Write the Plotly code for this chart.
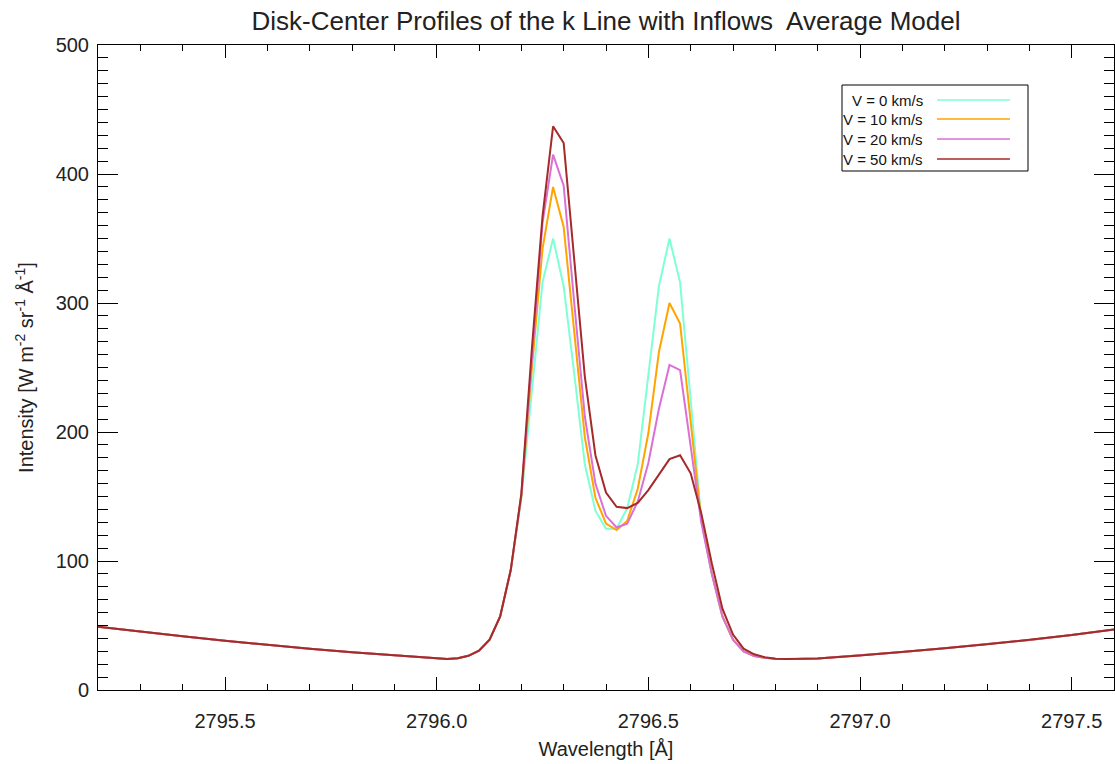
import plotly.graph_objects as go

# ---- data ----
wl_blue_wing = [2795.2, 2795.3, 2795.4, 2795.5, 2795.6, 2795.7, 2795.8, 2795.9, 2795.95,
                2796.0, 2796.025, 2796.05, 2796.075, 2796.1, 2796.125, 2796.15, 2796.175]
int_blue_wing = [49.0, 45.2, 41.6, 38.2, 35.0, 32.0, 29.3, 26.8, 25.5,
                 24.3, 24.1, 24.6, 26.5, 30.5, 39.0, 57.0, 93.0]

wl_core = [2796.2, 2796.225, 2796.25, 2796.275, 2796.3, 2796.325, 2796.35, 2796.375,
           2796.4, 2796.425, 2796.45, 2796.475, 2796.5, 2796.525, 2796.55, 2796.575,
           2796.6, 2796.625, 2796.65, 2796.675, 2796.7, 2796.725, 2796.75, 2796.775]
core_v0 = [148, 232, 316, 350, 313, 245, 175, 139, 125, 125, 141, 175, 244, 313, 350, 316,
           225, 132, 90, 57, 39, 30, 26.4, 25]
core_v10 = [150, 250, 342, 390, 359, 275, 196, 149, 129, 124, 131, 156, 199, 262, 300, 284,
            210, 132, 90, 57, 39, 30, 26.4, 25]
core_v20 = [151, 260, 362, 415, 391, 300, 212, 160, 135, 126, 129, 146, 176, 218, 252, 248,
            190, 130, 90, 57, 39, 30, 26.4, 25]
core_v50 = [152, 265, 367, 437, 424, 334, 243, 182, 153, 142, 141, 145, 155, 167, 179, 182,
            168, 137, 98, 63, 43, 32, 27.7, 25.4]

wl_red_wing = [2796.8, 2796.825, 2796.85, 2796.9, 2797.0, 2797.1, 2797.2, 2797.3,
               2797.4, 2797.5, 2797.6]
int_red_wing = [24.3, 24.0, 24.0, 24.5, 26.8, 29.4, 32.3, 35.4, 38.8, 42.6, 47.0]

series_names = ["V = 0 km/s", "V = 10 km/s", "V = 20 km/s", "V = 50 km/s"]
series_cores = [core_v0, core_v10, core_v20, core_v50]
series_colors = ["#7FFFD4", "#FFA500", "#DA70D6", "#A52A2A"]

x_ticks = [2795.5, 2796.0, 2796.5, 2797.0, 2797.5]
y_ticks = [0, 100, 200, 300, 400, 500]

FONT = "Liberation Sans, Arial, Helvetica, sans-serif"

fig = go.Figure()
wl_all = wl_blue_wing + wl_core + wl_red_wing
for name, core, color in zip(series_names, series_cores, series_colors):
    fig.add_trace(go.Scatter(
        x=wl_all, y=int_blue_wing + core + int_red_wing,
        mode="lines", name=name, line=dict(color=color, width=2),
        showlegend=False))

# Figure fills the whole window (body margin removed in post_script below)
W, H = 1115, 764
L, T = 98, 45
R = W - 1114
B = H - 690
pw, ph = W - L - R, H - T - B

def px(xp):
    return (xp - L) / pw

def py(yp):
    return (H - B - yp) / ph

shapes = [dict(type="rect", xref="paper", yref="paper",
               x0=px(842), x1=px(1028), y0=py(171), y1=py(85),
               line=dict(color="black", width=1), fillcolor="white", layer="above")]
annotations = []
rows_y = [100, 119, 139, 159]
for name, color, ry in zip(series_names, series_colors, rows_y):
    shapes.append(dict(type="line", xref="paper", yref="paper",
                       x0=px(937), x1=px(1010), y0=py(ry), y1=py(ry),
                       line=dict(color=color, width=1.5), layer="above"))
    annotations.append(dict(xref="paper", yref="paper", x=px(925), y=py(ry),
                            text=name, showarrow=False, xanchor="right", yanchor="middle",
                            font=dict(family=FONT, size=15, color="#111")))

fig.update_layout(
    width=W, height=H,
    margin=dict(l=L, r=R, t=T, b=B, autoexpand=False),
    paper_bgcolor="white", plot_bgcolor="white",
    title=dict(text="Disk-Center Profiles of the k Line with Inflows  Average Model",
               x=0.5, xref="paper", xanchor="center",
               y=1 - 21 / H, yref="container", yanchor="middle",
               font=dict(family=FONT, size=26, color="#222")),
    shapes=shapes, annotations=annotations,
    font=dict(family=FONT, color="#222"),
)
fig.update_xaxes(
    range=[2795.2, 2797.6], showgrid=False, zeroline=False, automargin=False,
    showline=True, linecolor="black", linewidth=1, mirror="ticks",
    ticks="inside", ticklen=13, tickcolor="black", tickwidth=1,
    tickvals=x_ticks, ticktext=[f"{v:.1f}" for v in x_ticks],
    ticklabelstandoff=13,
    minor=dict(dtick=0.1, tick0=2795.5, ticks="inside", ticklen=6, tickcolor="black"),
    tickfont=dict(family=FONT, size=20, color="#222"),
    title=dict(text="Wavelength [Å]", font=dict(family=FONT, size=20, color="#222"),
               standoff=10),
)
fig.update_yaxes(
    range=[0, 500], showgrid=False, zeroline=False, automargin=False,
    showline=True, linecolor="black", linewidth=1, mirror="ticks",
    ticks="inside", ticklen=20, tickcolor="black", tickwidth=1,
    tickvals=y_ticks, ticktext=[str(v) for v in y_ticks],
    ticklabelstandoff=4,
    minor=dict(dtick=10, tick0=0, ticks="inside", ticklen=10, tickcolor="black"),
    tickfont=dict(family=FONT, size=20, color="#222"),
    title=dict(text="Intensity [W m<sup>-2</sup> sr<sup>-1</sup> Å<sup>-1</sup>]",
               font=dict(family=FONT, size=20, color="#222"), standoff=16),
)

fig.write_html(
    "out.html",
    config={"displayModeBar": False},
    post_script="document.body.style.margin='0';document.body.style.overflow='hidden';",
)
